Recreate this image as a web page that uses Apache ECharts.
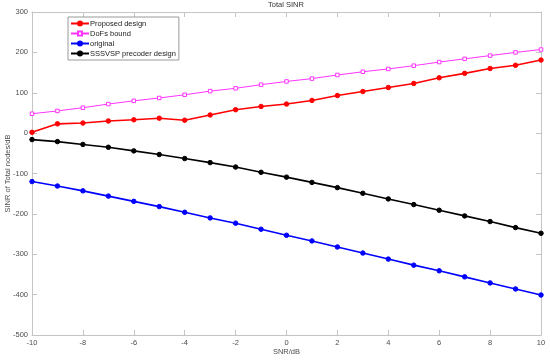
<!DOCTYPE html>
<html><head><meta charset="utf-8">
<script src="https://cdn.jsdelivr.net/npm/echarts@6/dist/echarts.min.js"></script>
<style>html,body{margin:0;padding:0;background:#fff}#c{width:550px;height:360px}</style>
</head><body><div id="c"></div>
<script>
var snr = [-10,-9,-8,-7,-6,-5,-4,-3,-2,-1,0,1,2,3,4,5,6,7,8,9,10];
var proposed = [2,23,25,30,33,37,32,45,58,66,72,81,93,103,113,123,137,148,160,168,181];
var dofs = [48,55,63,72,80,87,95,104,111,120,128,135,144,152,159,167,176,184,192,200,207];
var original = [-120,-131,-143,-156,-169,-182,-196,-210,-223,-238,-253,-267,-282,-297,-312,-327,-341,-356,-371,-386,-401];
var sssvsp = [-16,-21,-28,-35,-44,-53,-63,-73,-84,-97,-109,-122,-135,-149,-163,-177,-191,-205,-219,-234,-248];
var seriesNames = ['Proposed design','DoFs bound','original','SSSVSP precoder design'];
var xTicks = {min:-10,max:10,interval:2};
var yTicks = {min:-500,max:300,interval:100};

function pairs(ys){return snr.map(function(x,i){return [x,ys[i]];});}
var font = 'Liberation Sans, Arial, sans-serif';
var fs = 7.5;
var gridC = '#c4c4c4';
var txt = '#4d4d4d';
var chart = echarts.init(document.getElementById('c'));
function axisBase(pos, show){
  return {
    type:'value', position:pos,
    axisLine:{show:true,onZero:false,lineStyle:{color:gridC,width:1}},
    axisTick:{show:true,inside:true,length:5,lineStyle:{color:gridC}},
    splitLine:{show:false},
    axisLabel:{show:show,color:txt,fontSize:fs,fontFamily:font,margin:4}
  };
}
var xb = Object.assign(axisBase('bottom',true), xTicks, {name:'SNR/dB',nameLocation:'middle',nameGap:13,nameMoveOverlap:false,nameTextStyle:{color:txt,fontSize:fs,fontFamily:font}});
var xt = Object.assign(axisBase('top',false), xTicks);
var yl = Object.assign(axisBase('left',true), yTicks, {name:'SINR of Total nodes/dB',nameLocation:'middle',nameGap:20,nameMoveOverlap:false,nameTextStyle:{color:txt,fontSize:fs,fontFamily:font}});
var yr = Object.assign(axisBase('right',false), yTicks);

function mk(name,data,color,symbol,size,width,fill){
  return {name:name,type:'line',xAxisIndex:0,yAxisIndex:0,data:pairs(data),
    symbol:symbol,symbolSize:size,showSymbol:true,
    lineStyle:{color:color,width:width},
    itemStyle:{color:fill?color:'#fff',borderColor:color,borderWidth:1},
    animation:false};
}
chart.setOption({
  animation:false,
  title:{text:'Total SINR',left:286,top:1,padding:0,textAlign:'center',textStyle:{color:'#333',fontSize:fs,fontWeight:'normal',fontFamily:font}},
  grid:{left:32,right:9,top:12,bottom:25,containLabel:false,outerBoundsMode:'none'},
  legend:{
    orient:'vertical',left:68,top:17,
    data:seriesNames,
    backgroundColor:'#fff',borderColor:'#9a9a9a',borderWidth:1,
    padding:[2,3,2,2],itemGap:1,itemWidth:18,itemHeight:5,
    textStyle:{color:'#222',fontSize:fs,lineHeight:9,fontFamily:font,padding:[0,0,0,-4]}
  },
  xAxis:[xb,xt],
  yAxis:[yl,yr],
  series:[
    mk(seriesNames[0],proposed,'#ff0000','circle',4.5,1.6,true),
    mk(seriesNames[1],dofs,'#ff33ff','rect',3.5,1,false),
    mk(seriesNames[2],original,'#0000ff','circle',4.5,1.6,true),
    mk(seriesNames[3],sssvsp,'#000000','circle',4.5,1.6,true)
  ]
});
</script></body></html>
